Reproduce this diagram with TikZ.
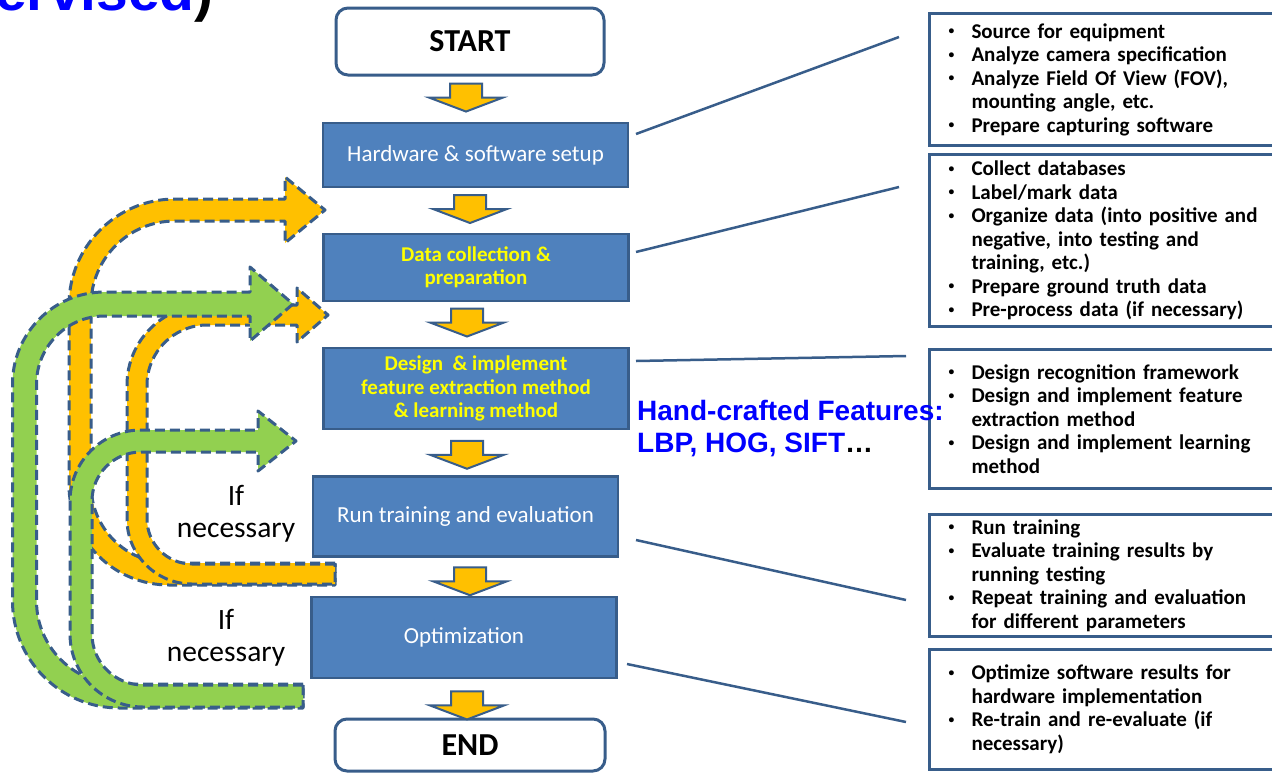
\documentclass[tikz,border=0pt]{standalone}
\usepackage{fontspec}
\setmainfont{Carlito}
\newfontfamily\arialfont{Liberation Sans}
\usetikzlibrary{calc}

\definecolor{boxblue}{HTML}{4F81BD}
\definecolor{boxedge}{HTML}{385D8A}
\definecolor{loopyellow}{HTML}{FFC000}
\definecolor{loopgreen}{HTML}{92D050}
\definecolor{txtyellow}{HTML}{FFFF00}
\definecolor{hcblue}{HTML}{0000FF}

\newcommand{\setfs}[2]{\fontsize{#1}{#2}\selectfont}
\newcommand{\smallbul}{\raisebox{0.16em}{\scalebox{0.55}{\textbullet}}}
\newcommand{\bitem}[1]{\makebox[23pt][l]{\smallbul}#1}
\newcommand{\bcont}[1]{\hspace*{23pt}#1}

% Down-pointing block arrow centred on a coordinate
\newcommand{\flowarrow}[1]{%
  \path[flowarrow, shift={(#1)}] (-16,-14) -- (16,-14) -- (16,0) -- (37,0)
    -- (0,14) -- (-37,0) -- (-16,0) -- cycle;}

% Thick feedback arrow: tail at the right (bottom), runs left, up, and right to its head.
% #1 colour, #2 tail x, #3 tail y, #4 vertical x, #5 head y, #6 lower radius,
% #7 upper radius, #8 head base x, #9 half width; head size in \headhalf, \headlen
\newcommand{\returnarrow}[9]{%
  \path[loopline, fill=#1]
    (#2,{#3-#9}) -- ({#4+#6},{#3-#9})
    arc[start angle=90, end angle=180, radius={#6-#9}]
    -- ({#4+#9},{#5+#7})
    arc[start angle=180, end angle=270, radius={#7-#9}]
    -- (#8,{#5+#9}) -- (#8,{#5+\headhalf}) -- ({#8+\headlen},#5)
    -- (#8,{#5-\headhalf}) -- (#8,{#5-#9}) -- ({#4+#7},{#5-#9})
    arc[start angle=270, end angle=180, radius={#7+#9}]
    -- ({#4-#9},{#3-#6})
    arc[start angle=180, end angle=90, radius={#6+#9}]
    -- (#2,{#3+#9}) -- cycle;}

\tikzset{
  stepbox/.style={rectangle, fill=boxblue, draw=boxedge, line width=2.8pt,
    minimum width=305pt, align=center, inner sep=0pt},
  termbox/.style={rectangle, rounded corners=12pt, fill=white, draw=boxedge,
    line width=3pt, align=center, inner sep=0pt, font=\bfseries\setfs{32}{36}},
  notebox/.style={rectangle, fill=white, draw=boxedge, line width=3pt,
    anchor=north west, text width=360pt, inner xsep=19pt, inner ysep=0pt,
    align=left, font=\bfseries\setfs{21}{23.5}},
  flowarrow/.style={fill=loopyellow, draw=boxedge, line width=2pt},
  loopline/.style={draw=boxedge, line width=3pt, dash pattern=on 10pt off 5pt,
    line join=round},
  leader/.style={draw=boxedge, line width=2.5pt},
  note/.style={font=\setfs{29.5}{32}, align=center, inner sep=0pt},
  handtext/.style={anchor=base west, inner sep=0pt, text=hcblue,
    font=\arialfont\bfseries\setfs{28}{32}},
}

\begin{document}
\begin{tikzpicture}[x=1pt, y=-1pt]
\fill[white] (0,0) rectangle (1272,772);
\useasboundingbox (0,0) rectangle (1272,772);

% heading fragment at the top edge
\node[anchor=base east, inner sep=0pt, font=\arialfont\bfseries\setfs{57}{60}]
  (title) at (214,10) {\textcolor{hcblue}{ervised})};

% feedback arrows
\def\headhalf{33}\def\headlen{40}
\returnarrow{loopyellow}{335}{574}{80}{210}{89}{95}{285}{11}
\def\headhalf{27}\def\headlen{31}
\returnarrow{loopyellow}{335}{574}{137}{315}{55}{70}{297}{10}
\def\headhalf{37}\def\headlen{43}
\returnarrow{loopgreen}{303}{696}{24.5}{304}{95}{80}{250}{12}
\def\headhalf{30}\def\headlen{38}
\returnarrow{loopgreen}{303}{696}{81}{441}{62}{60}{258}{11}

\node[note] (if1) at (236,514) {If\\necessary};
\node[note] (if2) at (226,638) {If\\necessary};

% main flow
\node[termbox, minimum width=268pt, minimum height=67pt] (start) at (470,41.5) {START};
\node[stepbox, minimum height=64pt, text=white, font=\setfs{23}{26}] (hw) at (475.5,155)
  {Hardware \& software setup};
\node[stepbox, minimum height=67pt, text=txtyellow, font=\bfseries\setfs{21}{23.5}] (dc) at (476,267.5)
  {Data collection \&\\preparation};
\node[stepbox, minimum height=81pt, text=txtyellow, font=\bfseries\setfs{21}{23.5}] (di) at (476,388.5)
  {Design \ \& implement\\feature extraction method\\\& learning method};
\node[stepbox, minimum height=80pt, text=white, font=\setfs{23}{26}] (rt) at (465.5,516.5)
  {Run training and evaluation};
\node[stepbox, minimum height=81pt, text=white, font=\setfs{23}{26}] (op) at (464,637.5)
  {Optimization};
\node[termbox, minimum width=270pt, minimum height=52pt] (end) at (470,745) {END};

\path ($(start.south)!0.5!(hw.north)+(0,-1.5)$) coordinate (m1);
\path ($(hw.south)!0.5!(dc.north)+(0,-1.5)$) coordinate (m2);
\path ($(dc.south)!0.5!(di.north)+(0,-2)$) coordinate (m3);
\path ($(di.south)!0.5!(rt.north)+(0,2)$) coordinate (m4);
\path ($(rt.south)!0.5!(op.north)+(0,4.5)$) coordinate (m5);
\path ($(op.south)!0.5!(end.north)+(0,7)$) coordinate (m6);
\coordinate (a1) at (466,0 |- m1);
\coordinate (a2) at (470,0 |- m2);
\coordinate (a3) at (467,0 |- m3);
\coordinate (a4) at (467,0 |- m4);
\coordinate (a5) at (470,0 |- m5);
\coordinate (a6) at (467,0 |- m6);
\flowarrow{a1}
\flowarrow{a2}
\flowarrow{a3}
\flowarrow{a4}
\flowarrow{a5}
\flowarrow{a6}

% detail boxes
\node[notebox, minimum height=132pt] (r1) at (928,12) {%
  \bitem{Source for equipment}\\
  \bitem{Analyze camera specification}\\
  \bitem{Analyze Field Of View (FOV),}\\
  \bcont{mounting angle, etc.}\\
  \bitem{Prepare capturing software}};
\node[notebox, minimum height=172pt] (r2) at (928,153) {%
  \bitem{Collect databases}\\
  \bitem{Label/mark data}\\
  \bitem{Organize data (into positive and}\\
  \bcont{negative, into testing and}\\
  \bcont{training, etc.)}\\
  \bitem{Prepare ground truth data}\\
  \bitem{Pre-process data (if necessary)}};
\node[notebox, minimum height=139pt] (r3) at (928,348) {%
  \bitem{Design recognition framework}\\
  \bitem{Design and implement feature}\\
  \bcont{extraction method}\\
  \bitem{Design and implement learning}\\
  \bcont{method}};
\node[notebox, minimum height=122pt] (r4) at (928,513) {%
  \bitem{Run training}\\
  \bitem{Evaluate training results by}\\
  \bcont{running testing}\\
  \bitem{Repeat training and evaluation}\\
  \bcont{for different parameters}};
\node[notebox, minimum height=120pt] (r5) at (928,648) {%
  \bitem{Optimize software results for}\\
  \bcont{hardware implementation}\\
  \bitem{Re-train and re-evaluate (if}\\
  \bcont{necessary)}};

% leader lines from the steps to their details
\coordinate (l1a) at (636,134); \coordinate (l1b) at (899,37);
\coordinate (l2a) at (636,252); \coordinate (l2b) at (899,187);
\coordinate (l3a) at (636,361); \coordinate (l3b) at (906,356);
\coordinate (l4a) at (636,540); \coordinate (l4b) at (906,600);
\coordinate (l5a) at (627,664); \coordinate (l5b) at (906,722);
\draw[leader] (l1a) -- (l1b);
\draw[leader] (l2a) -- (l2b);
\draw[leader] (l3a) -- (l3b);
\draw[leader] (l4a) -- (l4b);
\draw[leader] (l5a) -- (l5b);

\node[handtext] (hc1) at (637,420) {Hand-crafted Features:};
\node[handtext] (hc2) at (637,452) {LBP, HOG, SIFT\textcolor{black}{…}};
\end{tikzpicture}
\end{document}
